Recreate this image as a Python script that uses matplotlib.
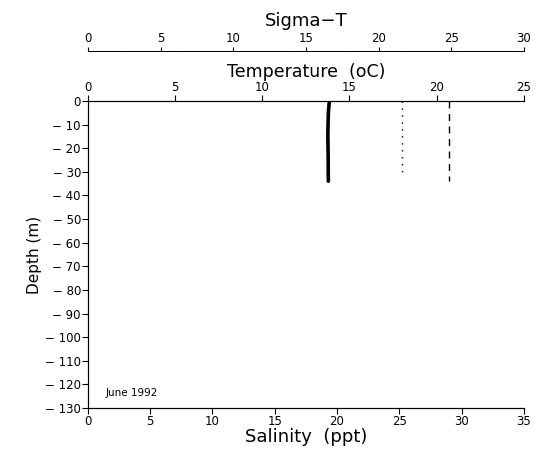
"""Depth profile: salinity, temperature and sigma-T, June 1992."""
import matplotlib
matplotlib.use('Agg')
import matplotlib.pyplot as plt

plt.rcParams['font.family'] = ['DejaVu Sans']

# temperature profile (solid, thick)
temp_depth = [0, -2, -5, -10, -15, -20, -25, -30, -34]
temp_vals = [13.85, 13.82, 13.79, 13.77, 13.76, 13.77, 13.78, 13.78, 13.79]

# salinity profile (dashed)
sal_depth = [0, -10, -20, -30, -34]
sal_vals = [29.0, 29.0, 29.0, 29.0, 29.0]

# sigma-T profile (dotted)
sig_depth = [0, -10, -20, -31]
sig_vals = [21.6, 21.6, 21.6, 21.6]

sal_ticks = [0, 5, 10, 15, 20, 25, 30, 35]
temp_ticks = [0, 5, 10, 15, 20, 25]
sig_ticks = [0, 5, 10, 15, 20, 25, 30]
depth_ticks = list(range(0, -131, -10))

fig = plt.figure(figsize=(5.39, 4.51), dpi=100)
ax = fig.add_axes([0.163, 0.0953, 0.809, 0.681])

ax.plot(sal_vals, sal_depth, color='black', lw=1.0, linestyle=(0, (5, 4)))
ax.set_xlim(0, 35)
ax.set_ylim(-130, 0)
ax.set_xticks(sal_ticks)
ax.set_yticks(depth_ticks)
ax.set_yticklabels([str(d).replace('-', '\u2212 ') for d in depth_ticks])
ax.tick_params(labelsize=8.5, length=4, width=0.8, pad=1)
ax.set_xlabel('Salinity  (ppt)', fontsize=13, labelpad=0)
ax.set_ylabel('Depth (m)', fontsize=11, labelpad=2)
ax.spines['right'].set_visible(False)
ax.text(1.4, -123.5, 'June 1992', fontsize=7.5, va='center')

# temperature axis on top
ax_t = ax.twiny()
ax_t.plot(temp_vals, temp_depth, color='black', lw=2.6, solid_capstyle='round')
ax_t.set_xlim(0, 25)
ax_t.set_xticks(temp_ticks)
ax_t.tick_params(labelsize=8.5, length=4, width=0.8, pad=1)
ax_t.set_xlabel('Temperature  (oC)', fontsize=12.5, labelpad=3)
ax_t.spines['right'].set_visible(False)

# sigma-T axis above
ax_s = ax.twiny()
ax_s.plot(sig_vals, sig_depth, color='black', lw=1.0, linestyle=(0, (1, 4)))
ax_s.set_xlim(0, 30)
ax_s.set_xticks(sig_ticks)
ax_s.spines['top'].set_position(('axes', 1.164))
ax_s.spines['top'].set_linewidth(0.7)
ax_s.spines['top'].set_linestyle((0, (1, 0.6)))
for side in ['right', 'left', 'bottom']:
    ax_s.spines[side].set_visible(False)
ax_s.tick_params(labelsize=8.5, length=3, width=0.8, pad=1)
ax_s.set_xlabel('Sigma\u2212T', fontsize=13, labelpad=4)

fig.savefig('out.png', dpi=100)
